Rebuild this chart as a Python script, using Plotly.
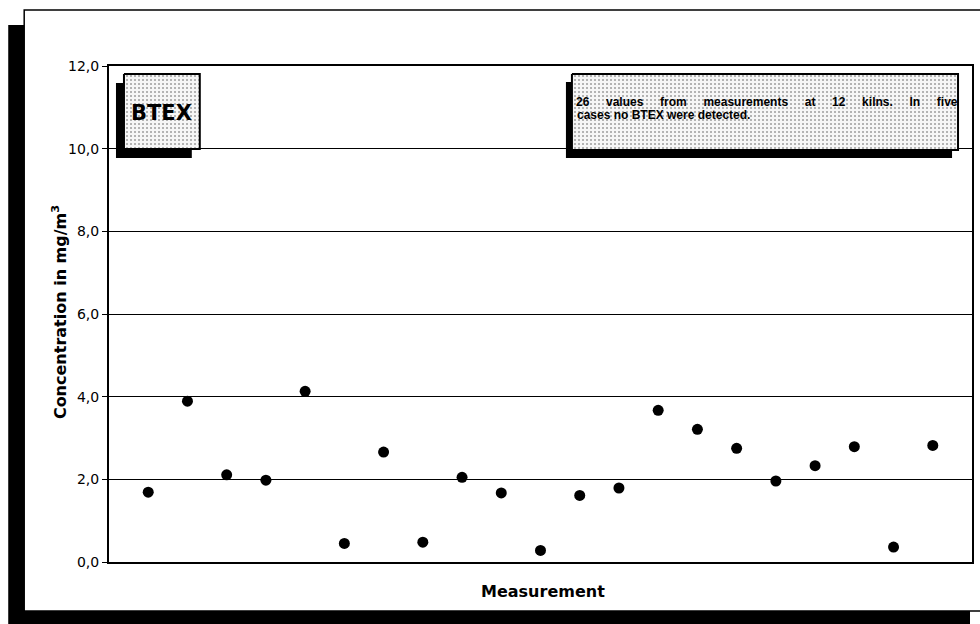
import plotly.graph_objects as go

# BTEX concentrations (mg/m3), one value per measurement with a detection
measurement = list(range(1, 22))
concentration = [1.69, 3.89, 2.11, 1.98, 4.13, 0.45, 2.66, 0.48, 2.05, 1.67, 0.28,
                 1.61, 1.79, 3.67, 3.21, 2.75, 1.96, 2.33, 2.79, 0.36, 2.82]
y_ticks = [0, 2, 4, 6, 8, 10, 12]

W, H = 980, 624
L, R, T, B = 109, 974, 66, 562  # plot area in page pixels


def px(x):
    return (x - L) / (R - L)


def py(y):
    return (B - y) / (B - T)


fig = go.Figure()

fig.add_trace(go.Scatter(
    x=measurement, y=concentration, mode="markers",
    marker=dict(color="black", size=11),
    showlegend=False, hoverinfo="skip",
))


def speckle_box(x0, y0, x1, y1, sx, sy):
    """Shadowed, stippled label box drawn on the pixel overlay axes."""
    fig.add_trace(go.Scatter(
        x=[x0 + sx, x1 + sx, x1 + sx, x0 + sx, x0 + sx],
        y=[y0 + sy, y0 + sy, y1 + sy, y1 + sy, y0 + sy],
        fill="toself", fillcolor="black", mode="lines",
        line=dict(color="black", width=0),
        xaxis="x2", yaxis="y2", showlegend=False, hoverinfo="skip",
    ))
    fig.add_trace(go.Scatter(
        x=[x0, x1, x1, x0, x0],
        y=[y0, y0, y1, y1, y0],
        fill="toself", fillcolor="white", mode="lines",
        fillpattern=dict(shape=".", fgcolor="#444444", bgcolor="#f6f6f6",
                         size=4, solidity=0.2),
        line=dict(color="black", width=2),
        xaxis="x2", yaxis="y2", showlegend=False, hoverinfo="skip",
    ))


speckle_box(124, 74, 200, 149, -8, 9)
speckle_box(573, 74, 960, 150, -6, 8)

gap = "\u00a0" * 5
line1 = gap.join(["26", "values", "from", "measurements", "at", "12", "kilns.", "In", "five"])

annotations = [
    dict(text="BTEX", x=px(162), y=py(113), xref="paper", yref="paper",
         showarrow=False, xanchor="center", yanchor="middle",
         font=dict(family="DejaVu Sans", size=21, color="black", weight="bold")),
    dict(text=line1, x=px(575), y=py(102), xref="paper", yref="paper",
         showarrow=False, xanchor="left", yanchor="middle",
         font=dict(family="Liberation Sans", size=12, color="black", weight="bold")),
    dict(text="cases no BTEX were detected.", x=px(576), y=py(115), xref="paper",
         yref="paper", showarrow=False, xanchor="left", yanchor="middle",
         font=dict(family="Liberation Sans", size=12, color="black", weight="bold")),
    dict(text="Concentration in mg/m<sup>3</sup>", x=px(59), y=py(312),
         xref="paper", yref="paper", showarrow=False, textangle=-90,
         xanchor="center", yanchor="middle",
         font=dict(family="DejaVu Sans", size=16, color="black", weight="bold")),
    dict(text="Measurement", x=px(544), y=py(591), xref="paper", yref="paper",
         showarrow=False, xanchor="center", yanchor="middle",
         font=dict(family="DejaVu Sans", size=16, color="black", weight="bold")),
]

shapes = [
    # page frame with a heavy drop shadow on the left and bottom
    dict(type="rect", xref="paper", yref="paper", layer="below",
         x0=px(8), x1=px(972), y0=py(25), y1=py(630),
         fillcolor="black", line=dict(width=0)),
    dict(type="rect", xref="paper", yref="paper", layer="below",
         x0=px(24), x1=px(1000), y0=py(10), y1=py(611),
         fillcolor="white", line=dict(color="black", width=1.5)),
]

fig.update_layout(
    width=W, height=H, autosize=False,
    margin=dict(l=L, r=W - R, t=T, b=H - B, pad=0),
    paper_bgcolor="white", plot_bgcolor="rgba(0,0,0,0)",
    separators=",.",
    font=dict(family="DejaVu Sans", color="black"),
    xaxis=dict(range=[0, 22], showticklabels=False, ticks="", showgrid=False,
               zeroline=False, showline=True, linecolor="black", linewidth=2,
               mirror=True, fixedrange=True),
    yaxis=dict(range=[0, 12], tickvals=y_ticks, tickformat=".1f",
               ticks="outside", ticklen=5, tickcolor="black", tickwidth=1,
               showgrid=True, gridcolor="black", gridwidth=1, zeroline=False,
               showline=True, linecolor="black", linewidth=2, mirror=True,
               tickfont=dict(size=14, family="DejaVu Sans", color="black"),
               fixedrange=True),
    xaxis2=dict(range=[L, R], overlaying="x", visible=False, fixedrange=True),
    yaxis2=dict(range=[B, T], overlaying="y", visible=False, fixedrange=True),
    shapes=shapes,
    annotations=annotations,
    showlegend=False,
)

fig.write_html("out.html")
